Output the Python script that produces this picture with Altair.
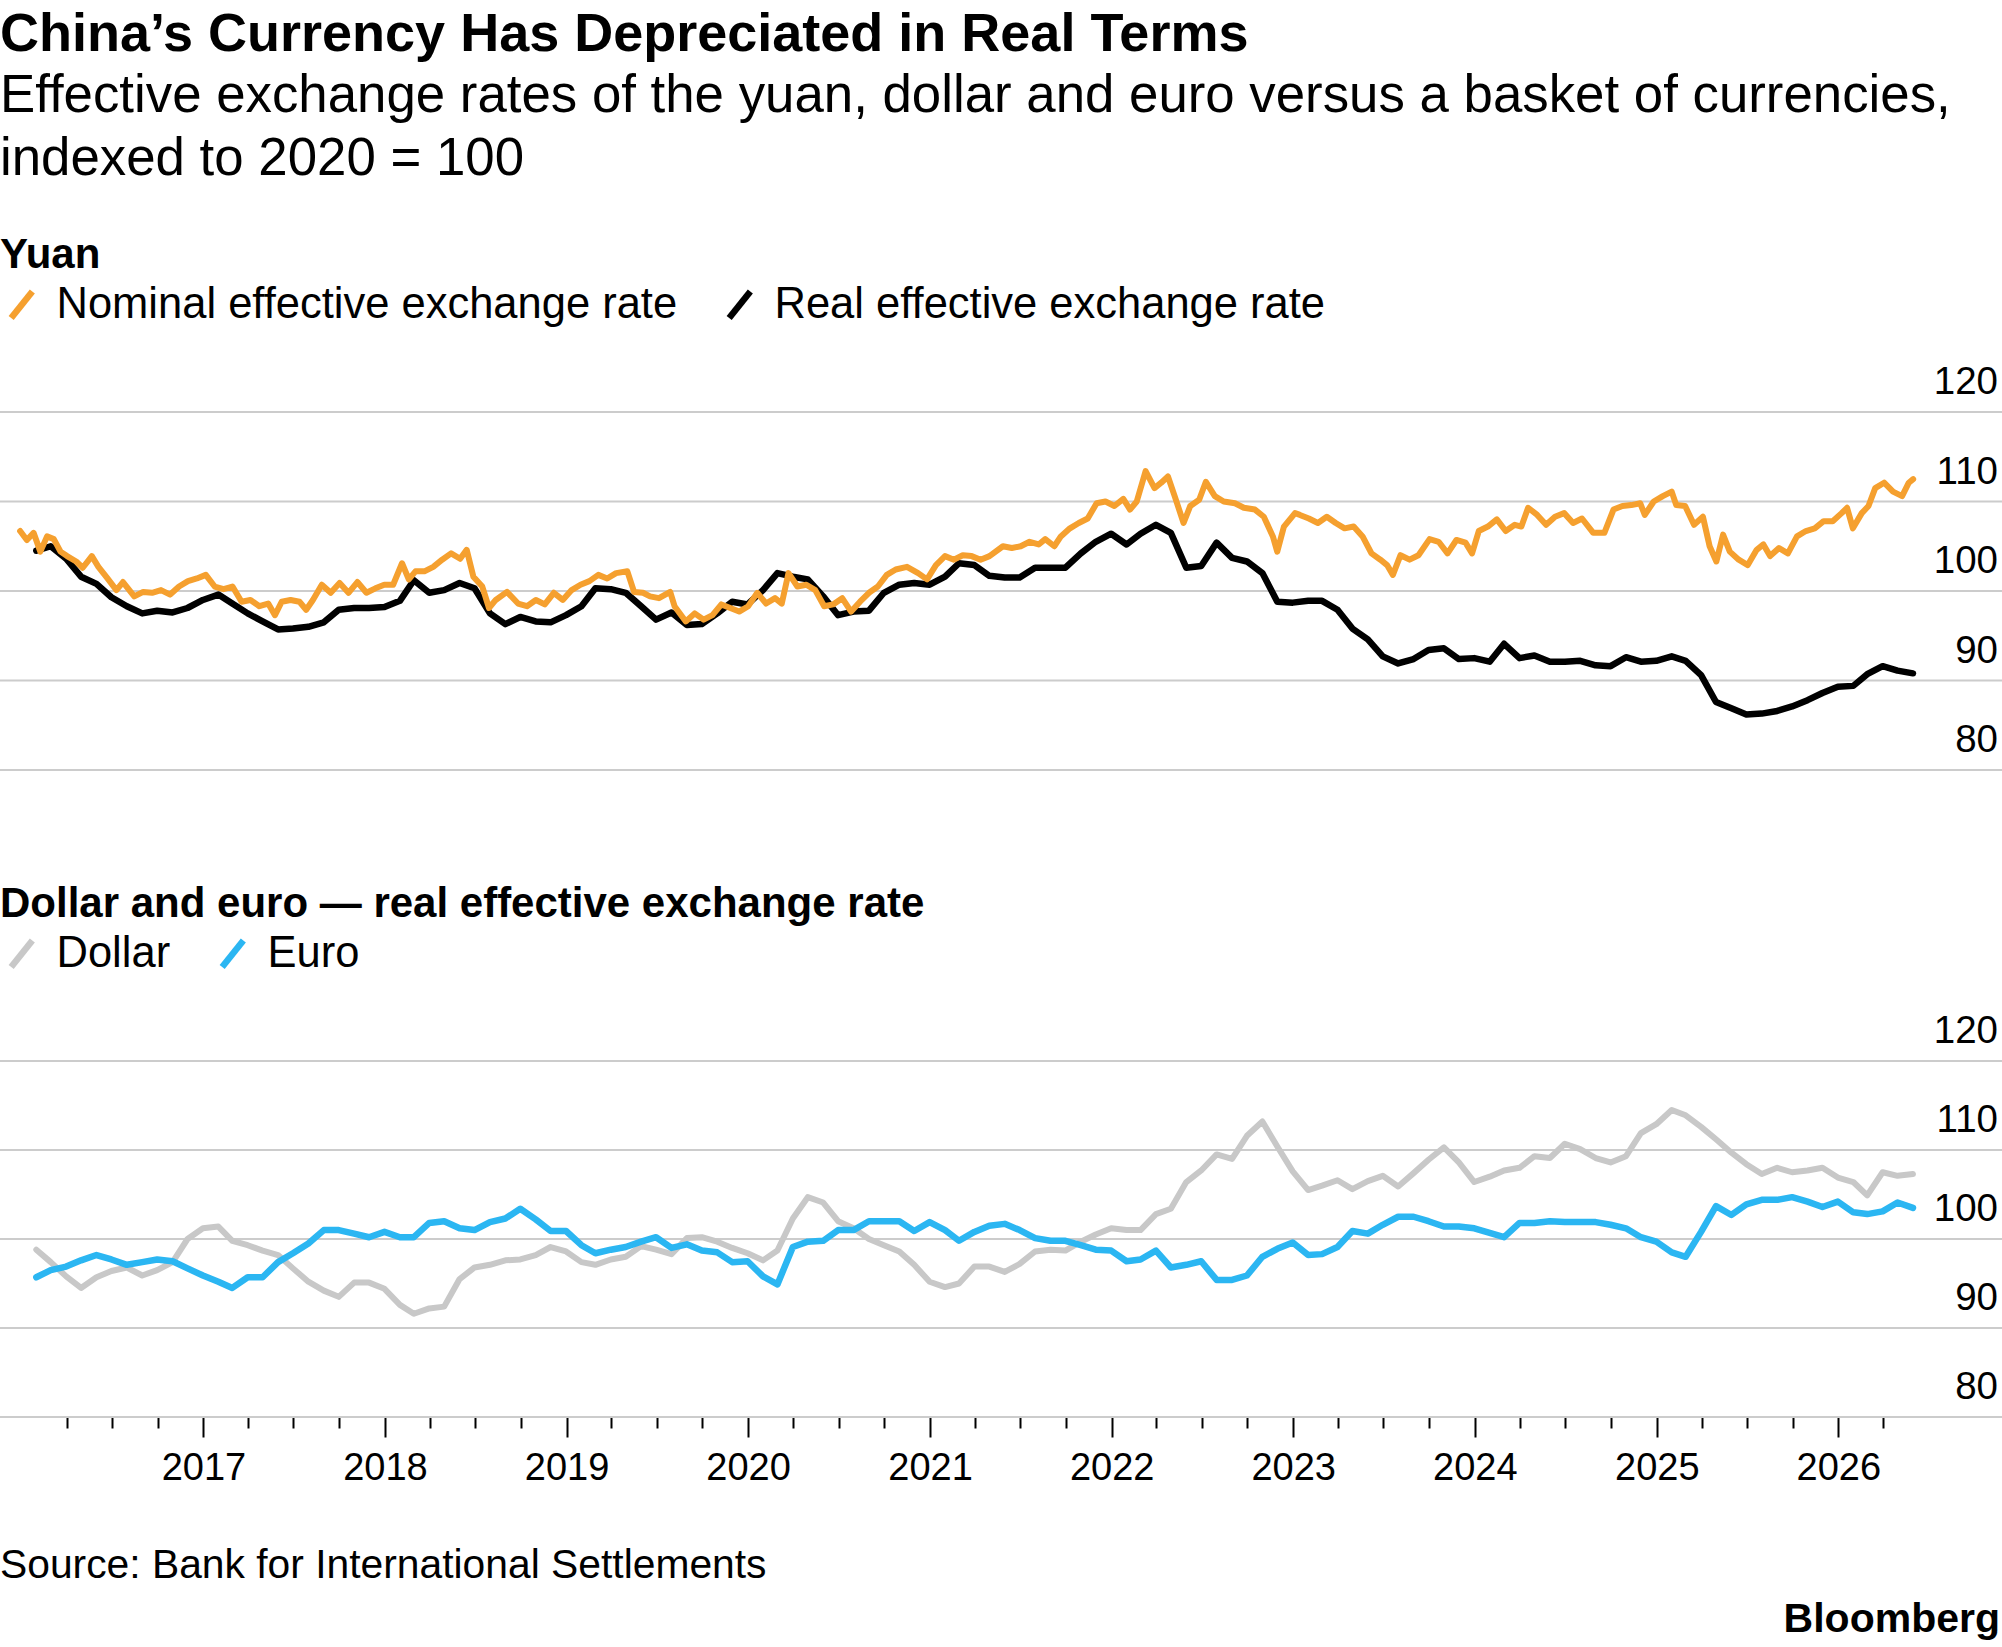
import altair as alt
import pandas as pd

FONT = "Liberation Sans"
ORANGE = "#F5A02F"
BLACK = "#000000"
GRAY = "#C8C8C8"
BLUE = "#2BB6F2"
GRID = "#CCCCCC"

# ---------------- data ----------------
NOM = "Nominal effective exchange rate"
REAL = "Real effective exchange rate"
DOLLAR = "Dollar"
EURO = "Euro"

# monthly series, Jan 2016 .. May 2026 (125 months)
yuan_real = [
    104.5, 105.0, 103.6, 101.6, 100.8, 99.3, 98.3, 97.5, 97.8, 97.6, 98.1, 99.0,
    99.6, 98.6, 97.5, 96.6, 95.7, 95.8, 96.0, 96.5, 97.9, 98.1, 98.1, 98.2,
    98.9, 101.2, 99.8, 100.1, 100.9, 100.3, 97.5, 96.3, 97.1, 96.6, 96.5, 97.3,
    98.3, 100.3, 100.2, 99.8, 98.3, 96.8, 97.6, 96.2, 96.3, 97.5, 98.8, 98.5,
    100.1, 102.0, 101.6, 101.3, 99.4, 97.3, 97.7, 97.8, 99.8, 100.7, 100.9, 100.7,
    101.6, 103.1, 102.9, 101.7, 101.5, 101.5, 102.6, 102.6, 102.6, 104.2, 105.5, 106.4,
    105.2, 106.4, 107.4, 106.5, 102.6, 102.8, 105.4, 103.7, 103.3, 102.0, 98.8, 98.7,
    98.9, 98.9, 97.9, 95.8, 94.6, 92.7, 91.9, 92.4, 93.4, 93.6, 92.4, 92.5,
    92.1, 94.1, 92.5, 92.8, 92.1, 92.1, 92.2, 91.7, 91.6, 92.6, 92.1, 92.2,
    92.7, 92.2, 90.6, 87.6, 86.9, 86.2, 86.3, 86.6, 87.1, 87.8, 88.6, 89.3,
    89.4, 90.7, 91.6, 91.1, 90.8,
]
dollar_real = [
    98.8, 97.4, 95.8, 94.5, 95.7, 96.4, 96.8, 95.9, 96.5, 97.4, 100.0, 101.2,
    101.4, 99.8, 99.3, 98.7, 98.2, 96.7, 95.2, 94.2, 93.5, 95.1, 95.1, 94.4,
    92.6, 91.6, 92.2, 92.4, 95.5, 96.8, 97.1, 97.6, 97.7, 98.2, 99.1, 98.6,
    97.4, 97.1, 97.7, 98.0, 99.2, 98.8, 98.3, 100.1, 100.2, 99.7, 99.0, 98.4,
    97.6, 98.7, 102.3, 104.7, 104.1, 102.0, 101.2, 100.0, 99.3, 98.6, 97.1, 95.2,
    94.6, 95.0, 96.9, 96.9, 96.3, 97.2, 98.6, 98.8, 98.7, 99.7, 100.5, 101.2,
    101.0, 101.0, 102.8, 103.4, 106.4, 107.7, 109.5, 109.0, 111.6, 113.2, 110.4, 107.6,
    105.5, 106.0, 106.6, 105.6, 106.5, 107.1, 105.9, 107.4, 108.9, 110.3, 108.6, 106.4,
    107.0, 107.7, 108.0, 109.3, 109.1, 110.7, 110.1, 109.1, 108.6, 109.3, 111.9, 112.9,
    114.5, 113.9, 112.6, 111.2, 109.7, 108.4, 107.3, 108.0, 107.5, 107.7, 108.0, 106.9,
    106.4, 104.9, 107.5, 107.1, 107.3,
]
euro_real = [
    95.7, 96.5, 96.9, 97.6, 98.2, 97.7, 97.1, 97.4, 97.7, 97.5, 96.7, 95.9,
    95.2, 94.5, 95.7, 95.7, 97.4, 98.4, 99.5, 101.0, 101.0, 100.6, 100.2, 100.8,
    100.2, 100.2, 101.8, 102.0, 101.2, 101.0, 101.9, 102.3, 103.4, 102.2, 100.9, 100.9,
    99.3, 98.4, 98.8, 99.1, 99.7, 100.2, 99.0, 99.4, 98.7, 98.5, 97.4, 97.5,
    95.8, 94.9, 99.1, 99.7, 99.8, 101.0, 101.0, 102.0, 102.0, 102.0, 100.9, 101.9,
    101.0, 99.8, 100.8, 101.5, 101.7, 101.0, 100.1, 99.8, 99.8, 99.3, 98.8, 98.7,
    97.5, 97.7, 98.7, 96.8, 97.1, 97.5, 95.4, 95.4, 95.9, 98.0, 98.9, 99.6,
    98.2, 98.3, 99.1, 100.9, 100.6, 101.6, 102.5, 102.5, 102.0, 101.4, 101.4, 101.2,
    100.7, 100.2, 101.8, 101.8, 102.0, 101.9, 101.9, 101.9, 101.6, 101.2, 100.2, 99.7,
    98.5, 98.0, 100.8, 103.7, 102.7, 103.9, 104.4, 104.4, 104.7, 104.2, 103.6, 104.2,
    103.0, 102.8, 103.1, 104.1, 103.5,
]

# nominal (daily in the original) read at irregular points: decimal year -> index
nominal_year = [
    2015.993, 2016.030, 2016.067, 2016.104, 2016.141, 2016.178, 2016.215, 2016.251,
    2016.301, 2016.337, 2016.387, 2016.423, 2016.473, 2016.522, 2016.558, 2016.620,
    2016.669, 2016.718, 2016.767, 2016.817, 2016.866, 2016.915, 2016.964, 2017.013,
    2017.062, 2017.111, 2017.160, 2017.210, 2017.259, 2017.308, 2017.357, 2017.394,
    2017.431, 2017.480, 2017.529, 2017.566, 2017.603, 2017.652, 2017.701, 2017.750,
    2017.799, 2017.848, 2017.898, 2017.947, 2017.996, 2018.045, 2018.094, 2018.131,
    2018.168, 2018.217, 2018.266, 2018.315, 2018.364, 2018.414, 2018.450, 2018.487,
    2018.536, 2018.573, 2018.610, 2018.672, 2018.733, 2018.782, 2018.831, 2018.880,
    2018.930, 2018.979, 2019.028, 2019.077, 2019.126, 2019.175, 2019.224, 2019.273,
    2019.335, 2019.372, 2019.421,
    2019.460, 2019.509, 2019.571, 2019.595, 2019.657, 2019.706, 2019.755, 2019.804,
    2019.853, 2019.902, 2019.951, 2020.001, 2020.050, 2020.099, 2020.148, 2020.185,
    2020.222, 2020.271, 2020.320, 2020.369, 2020.418, 2020.467, 2020.517, 2020.566,
    2020.615, 2020.664, 2020.713, 2020.762, 2020.811, 2020.873, 2020.934, 2020.983,
    2021.032, 2021.082, 2021.131, 2021.180, 2021.229, 2021.278, 2021.327, 2021.401,
    2021.450, 2021.499, 2021.548, 2021.598, 2021.634, 2021.684, 2021.720, 2021.770,
    2021.819, 2021.868, 2021.917, 2021.966, 2022.015, 2022.064, 2022.101, 2022.138,
    2022.187, 2022.236, 2022.273, 2022.310, 2022.347, 2022.396, 2022.433, 2022.482,
    2022.519, 2022.568, 2022.617, 2022.679, 2022.728, 2022.789, 2022.838, 2022.888,
    2022.912, 2022.949, 2023.010,
    2023.037, 2023.086, 2023.136, 2023.185, 2023.234, 2023.283, 2023.333, 2023.382,
    2023.431, 2023.480, 2023.517, 2023.549, 2023.591, 2023.641, 2023.690, 2023.751,
    2023.801, 2023.850, 2023.899, 2023.949, 2023.985, 2024.022, 2024.072, 2024.121,
    2024.170, 2024.220, 2024.256, 2024.293, 2024.343, 2024.392, 2024.441, 2024.491,
    2024.540, 2024.589, 2024.651, 2024.712, 2024.762, 2024.811, 2024.860, 2024.909,
    2024.934, 2024.983, 2025.033, 2025.082, 2025.107, 2025.156, 2025.205, 2025.254,
    2025.291, 2025.328, 2025.365, 2025.402, 2025.451, 2025.501, 2025.550, 2025.587,
    2025.624, 2025.673, 2025.722, 2025.772, 2025.821, 2025.870, 2025.919, 2025.969,
    2026.018, 2026.048, 2026.080, 2026.129, 2026.166, 2026.203, 2026.252, 2026.301,
    2026.351, 2026.388, 2026.412,
]
nominal_value = [
    106.7, 105.7, 106.5, 104.4, 106.1, 105.8, 104.4, 103.9,
    103.3, 102.6, 103.9, 102.7, 101.4, 100.1, 101.0, 99.4,
    99.9, 99.8, 100.1, 99.6, 100.5, 101.1, 101.4, 101.8,
    100.5, 100.2, 100.5, 98.8, 99.0, 98.3, 98.6, 97.3,
    98.8, 99.0, 98.8, 97.9, 99.0, 100.7, 99.8, 100.9,
    99.8, 101.0, 99.8, 100.3, 100.7, 100.7, 103.1, 101.3,
    102.2, 102.2, 102.7, 103.5, 104.2, 103.6, 104.6, 101.6,
    100.5, 98.1, 99.0, 99.9, 98.6, 98.3, 99.0, 98.5,
    99.8, 99.0, 100.1, 100.7, 101.1, 101.8, 101.4, 102.0,
    102.2, 99.9, 99.8,
    99.4, 99.2, 99.9, 98.3, 96.6, 97.5, 96.8, 97.3,
    98.5, 98.1, 97.7, 98.3, 99.8, 98.6, 99.2, 98.6,
    102.0, 100.5, 100.7, 100.1, 98.3, 98.5, 99.2, 97.7,
    98.8, 99.8, 100.5, 101.8, 102.4, 102.7, 102.0, 101.3,
    102.9, 103.9, 103.5, 104.0, 103.9, 103.5, 103.9, 105.0,
    104.8, 105.0, 105.5, 105.2, 105.8, 105.0, 106.1, 107.0,
    107.6, 108.1, 109.8, 110.0, 109.5, 110.3, 109.1, 110.0,
    113.4, 111.5, 112.1, 112.8, 110.6, 107.6, 109.5, 110.2,
    112.2, 110.6, 110.0, 109.8, 109.3, 109.1, 108.3, 106.1,
    104.4, 107.2, 108.7,
    108.5, 108.1, 107.6, 108.3, 107.6, 107.0, 107.2, 106.1,
    104.2, 103.5, 102.9, 101.8, 104.0, 103.5, 104.0, 105.8,
    105.5, 104.2, 105.7, 105.4, 104.2, 106.7, 107.2, 108.0,
    106.7, 107.4, 107.2, 109.3, 108.5, 107.4, 108.3, 108.7,
    107.6, 108.1, 106.5, 106.5, 109.1, 109.5, 109.6, 109.8,
    108.5, 110.0, 110.6, 111.1, 109.6, 109.5, 107.4, 108.3,
    105.0, 103.3, 106.3, 104.4, 103.5, 102.9, 104.6, 105.2,
    103.9, 104.8, 104.2, 106.1, 106.7, 107.0, 107.8, 107.8,
    108.7, 109.3, 107.0, 108.7, 109.5, 111.5, 112.1, 111.1,
    110.6, 112.1, 112.5,
]

y_ticks = [80, 90, 100, 110, 120]
tick_quarters = [(y, m) for y in range(2016, 2027) for m in (1, 4, 7, 10)
                 if (2016, 4) <= (y, m) <= (2026, 4)]

TITLE = "China\u2019s Currency Has Depreciated in Real Terms"
SUBTITLE = ["Effective exchange rates of the yuan, dollar and euro versus a basket of currencies,",
            "indexed to 2020 = 100"]
SOURCE = "Source: Bank for International Settlements"
BRAND = "Bloomberg"

# ---------------- frames ----------------
months = pd.date_range("2016-01-01", periods=len(yuan_real), freq="MS") + pd.offsets.MonthEnd(0)


def frac_to_ts(v):
    y = int(v)
    s = pd.Timestamp(year=y, month=1, day=1)
    e = pd.Timestamp(year=y + 1, month=1, day=1)
    return (s + (e - s) * (v - y)).round("h")


real_df = pd.DataFrame({"date": months, "value": yuan_real, "series": REAL})
nom_df = pd.DataFrame({"date": [frac_to_ts(v) for v in nominal_year],
                       "value": nominal_value, "series": NOM})
dollar_df = pd.DataFrame({"date": months, "value": dollar_real, "series": DOLLAR})
euro_df = pd.DataFrame({"date": months, "value": euro_real, "series": EURO})
ticks_df = pd.DataFrame({"v": y_ticks})

# ---------------- scales / axes ----------------
W, H = 2002, 1217
x_scale = alt.Scale(domain=[alt.DateTime(year=2015, month=11, date=19),
                            alt.DateTime(year=2026, month=11, date=26)])
x_axis = alt.Axis(
    values=[alt.DateTime(year=y, month=m, date=1) for y, m in tick_quarters],
    labelExpr="month(datum.value) === 0 ? timeFormat(datum.value, '%Y') : ''",
    tickSize={"condition": {"test": "month(datum.value) === 0", "value": 20}, "value": 11},
    tickColor="#000000", tickWidth=2, domain=False, grid=False,
    labelFont=FONT, labelFontSize=38, labelColor="#000000", labelPadding=12,
    labelOverlap=False, labelFlush=False, title=None,
)
x_enc = alt.X("date:T", scale=x_scale, axis=x_axis, title=None)

top_y = alt.Scale(domain=[80, 120], range=[570, 212], zero=False, nice=False)
bot_y = alt.Scale(domain=[80, 120], range=[1217, 861], zero=False, nice=False)

SLASH = "M-0.8,1L0.8,-1"


def make_legend(title, ly):
    return alt.Legend(
        title=title, orient="none", legendX=0, legendY=ly, direction="horizontal",
        titleFont=FONT, titleFontSize=42, titleFontWeight="bold", titleColor="#000000",
        titleAnchor="start", titlePadding=6, titleLimit=2000,
        labelFont=FONT, labelFontSize=43.5, labelColor="#000000", labelLimit=2000,
        labelOffset=13, columnPadding=38,
        symbolType=SLASH, symbolSize=700, symbolStrokeWidth=6.5,
    )


top_color = alt.Color("series:N", scale=alt.Scale(domain=[NOM, REAL], range=[ORANGE, BLACK]),
                      legend=make_legend("Yuan", 35))
bot_color = alt.Color("series:N", scale=alt.Scale(domain=[DOLLAR, EURO], range=[GRAY, BLUE]),
                      legend=make_legend("Dollar and euro \u2014 real effective exchange rate", 684))


def grid(scale):
    return alt.Chart(ticks_df).mark_rule(color=GRID, strokeWidth=2).encode(
        y=alt.Y("v:Q", scale=scale, axis=None))


def ylabels(scale):
    return alt.Chart(ticks_df).mark_text(
        align="right", baseline="alphabetic", dy=-18, font=FONT, fontSize=38.5, color="#000000"
    ).encode(y=alt.Y("v:Q", scale=scale, axis=None), x=alt.value(1998), text="v:Q")


def line(df, scale, color, width):
    return alt.Chart(df).mark_line(strokeWidth=width, strokeJoin="round", strokeCap="round").encode(
        x=x_enc, y=alt.Y("value:Q", scale=scale, axis=None), color=color)


top = alt.layer(grid(top_y), line(real_df, top_y, top_color, 6.5),
                line(nom_df, top_y, top_color, 6), ylabels(top_y))
bottom = alt.layer(grid(bot_y), line(dollar_df, bot_y, bot_color, 6),
                   line(euro_df, bot_y, bot_color, 6.5), ylabels(bot_y))

source = alt.Chart(pd.DataFrame({"t": [SOURCE]})).mark_text(
    align="left", baseline="alphabetic", font=FONT, fontSize=40.8, color="#000000"
).encode(text="t:N", x=alt.value(0), y=alt.value(1378))
brand = alt.Chart(pd.DataFrame({"t": [BRAND]})).mark_text(
    align="right", baseline="alphabetic", font=FONT, fontSize=41, fontWeight="bold", color="#000000"
).encode(text="t:N", x=alt.value(2000), y=alt.value(1432))

chart = alt.layer(top, bottom, source, brand).resolve_scale(
    y="independent", color="independent"
).properties(
    width=W, height=H,
    padding={"left": 0, "right": 0, "top": 200, "bottom": 230},
    autosize=alt.AutoSizeParams(type="none"),
    title=alt.Title(
        TITLE, subtitle=SUBTITLE, anchor="start", frame="group", orient="top", offset=14,
        font=FONT, fontSize=54, fontWeight="bold", color="#000000",
        subtitleFont=FONT, subtitleFontSize=52.8, subtitleColor="#000000",
        subtitleLineHeight=63, subtitlePadding=8,
    ),
).configure(background="#ffffff").configure_view(stroke=None)

chart.save("out.html", embed_options={"renderer": "svg", "actions": False})
